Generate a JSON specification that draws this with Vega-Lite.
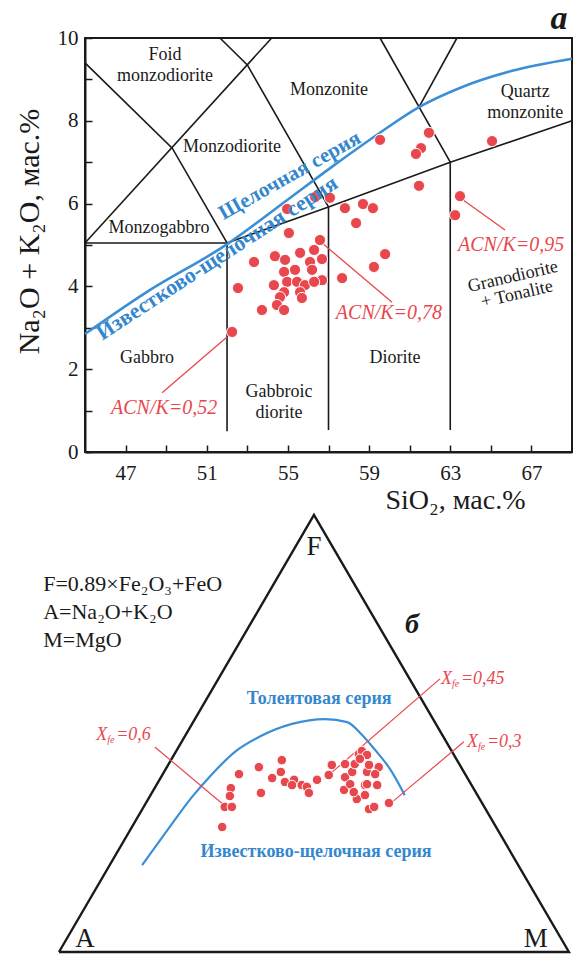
{
  "$schema": "https://vega.github.io/schema/vega-lite/v6.json",
  "background": "white",
  "padding": {"left": 13, "top": 0, "right": 0, "bottom": 0},
  "spacing": -5,
  "datasets": {
    "tas_lines": [
      {"seg": 1, "ord": 1, "x": 45, "y": 9.4}, {"seg": 1, "ord": 2, "x": 49.3, "y": 7.34}, {"seg": 1, "ord": 3, "x": 52, "y": 5.05},
      {"seg": 2, "ord": 1, "x": 45, "y": 5.05}, {"seg": 2, "ord": 2, "x": 54.2, "y": 10},
      {"seg": 3, "ord": 1, "x": 51.65, "y": 10}, {"seg": 3, "ord": 2, "x": 53, "y": 9.35}, {"seg": 3, "ord": 3, "x": 57, "y": 5.92},
      {"seg": 4, "ord": 1, "x": 45, "y": 5.05}, {"seg": 4, "ord": 2, "x": 52, "y": 5.05},
      {"seg": 5, "ord": 1, "x": 52, "y": 5.05}, {"seg": 5, "ord": 2, "x": 57, "y": 5.92}, {"seg": 5, "ord": 3, "x": 63, "y": 7.0}, {"seg": 5, "ord": 4, "x": 69, "y": 8.0},
      {"seg": 6, "ord": 1, "x": 59.54, "y": 10}, {"seg": 6, "ord": 2, "x": 63, "y": 7.0},
      {"seg": 7, "ord": 1, "x": 63.33, "y": 10}, {"seg": 7, "ord": 2, "x": 61.46, "y": 8.33},
      {"seg": 8, "ord": 1, "x": 52, "y": 5.05}, {"seg": 8, "ord": 2, "x": 52, "y": 0.5},
      {"seg": 9, "ord": 1, "x": 57, "y": 5.92}, {"seg": 9, "ord": 2, "x": 57, "y": 0.53},
      {"seg": 10, "ord": 1, "x": 63, "y": 7.0}, {"seg": 10, "ord": 2, "x": 63, "y": 0.53}
    ],
    "tas_blue": [
      {"ord": 1, "x": 45, "y": 2.85}, {"ord": 2, "x": 48, "y": 3.85}, {"ord": 3, "x": 52.1, "y": 5.05},
      {"ord": 4, "x": 55, "y": 6.1}, {"ord": 5, "x": 57.2, "y": 6.9}, {"ord": 6, "x": 59.5, "y": 7.7},
      {"ord": 7, "x": 61.46, "y": 8.33}, {"ord": 8, "x": 63.5, "y": 8.8}, {"ord": 9, "x": 66, "y": 9.2}, {"ord": 10, "x": 69, "y": 9.5}
    ],
    "tas_points": [
      {"x": 52.25, "y": 2.90}, {"x": 52.54, "y": 3.96}, {"x": 53.33, "y": 4.59}, {"x": 53.72, "y": 3.43},
      {"x": 54.96, "y": 5.87}, {"x": 55.05, "y": 5.29}, {"x": 56.58, "y": 5.12}, {"x": 54.36, "y": 4.73},
      {"x": 54.86, "y": 4.64}, {"x": 55.6, "y": 4.81}, {"x": 56.29, "y": 4.88}, {"x": 56.09, "y": 4.59},
      {"x": 56.68, "y": 4.66}, {"x": 55.35, "y": 4.40}, {"x": 54.81, "y": 4.35}, {"x": 56.19, "y": 4.40},
      {"x": 56.68, "y": 4.15}, {"x": 57.67, "y": 4.20}, {"x": 54.96, "y": 4.11}, {"x": 55.45, "y": 4.11},
      {"x": 54.31, "y": 4.03}, {"x": 55.84, "y": 4.03}, {"x": 56.29, "y": 4.11}, {"x": 54.81, "y": 3.86},
      {"x": 55.6, "y": 3.86}, {"x": 54.61, "y": 3.74}, {"x": 55.69, "y": 3.72}, {"x": 54.46, "y": 3.55},
      {"x": 54.81, "y": 3.43}, {"x": 56.34, "y": 6.16}, {"x": 57.07, "y": 6.14}, {"x": 57.81, "y": 5.89},
      {"x": 59.54, "y": 7.54}, {"x": 61.95, "y": 7.71}, {"x": 61.56, "y": 7.34}, {"x": 61.31, "y": 7.20},
      {"x": 61.46, "y": 6.43}, {"x": 58.7, "y": 5.99}, {"x": 59.19, "y": 5.89}, {"x": 58.36, "y": 5.53},
      {"x": 59.79, "y": 4.78}, {"x": 59.24, "y": 4.47}, {"x": 63.48, "y": 6.18}, {"x": 63.24, "y": 5.72},
      {"x": 65.06, "y": 7.51}
    ],
    "tas_leaders": [
      {"seg": 1, "ord": 1, "x": 52.0, "y": 2.78}, {"seg": 1, "ord": 2, "x": 48.8, "y": 1.43},
      {"seg": 2, "ord": 1, "x": 56.68, "y": 5.05}, {"seg": 2, "ord": 2, "x": 60.13, "y": 3.62},
      {"seg": 3, "ord": 1, "x": 63.6, "y": 6.1}, {"seg": 3, "ord": 2, "x": 65.7, "y": 5.36}
    ],
    "tas_acn": [
      {"x": 48.9, "y": 1.06, "t": "ACN/K=0,52"},
      {"x": 59.98, "y": 3.36, "t": "ACN/K=0,78"},
      {"x": 66.0, "y": 5.0, "t": "ACN/K=0,95"}
    ],
    "tas_regions": [
      {"x": 48.94, "y": 9.59, "t": ["Foid", "monzodiorite"]},
      {"x": 57.03, "y": 8.74, "t": "Monzonite"},
      {"x": 66.69, "y": 8.7, "t": ["Quartz", "monzonite"]},
      {"x": 52.24, "y": 7.37, "t": "Monzodiorite"},
      {"x": 48.65, "y": 5.41, "t": "Monzogabbro"},
      {"x": 48.06, "y": 2.27, "t": "Gabbro"},
      {"x": 54.56, "y": 1.45, "t": ["Gabbroic", "diorite"]},
      {"x": 60.28, "y": 2.27, "t": "Diorite"}
    ],
    "tas_grano": [{"x": 66.09, "y": 4.23, "t": ["Granodiorite", "+ Tonalite"]}],
    "tas_alk": [{"x": 55.1, "y": 6.67, "t": "Щелочная серия"}],
    "tas_calc": [{"x": 51.5, "y": 4.69, "t": "Известково-щелочная серия"}],
    "tas_letter": [{"x": 68.36, "y": 10.22, "t": "a"}],
    "afm_triangle": [
      {"ord": 1, "u": 0, "v": 0}, {"ord": 2, "u": 100, "v": 0}, {"ord": 3, "u": 50, "v": 100}, {"ord": 4, "u": 0, "v": 0}
    ],
    "afm_blue": [
      {"ord": 1, "u": 16.3, "v": 19.9}, {"ord": 2, "u": 21.4, "v": 28.1}, {"ord": 3, "u": 26.1, "v": 35.5},
      {"ord": 4, "u": 30.0, "v": 40.7}, {"ord": 5, "u": 34.5, "v": 45.8}, {"ord": 6, "u": 39.2, "v": 49.2},
      {"ord": 7, "u": 45.7, "v": 52.2}, {"ord": 8, "u": 52.2, "v": 53.3}, {"ord": 9, "u": 56.5, "v": 52.6},
      {"ord": 10, "u": 59.4, "v": 49.7}, {"ord": 11, "u": 61.8, "v": 46.5}, {"ord": 12, "u": 64.9, "v": 41.9},
      {"ord": 13, "u": 67.8, "v": 35.9}
    ],
    "afm_points": [
      {"u": 35.3, "v": 40.7}, {"u": 33.7, "v": 37.5}, {"u": 33.5, "v": 35.7}, {"u": 32.5, "v": 33.2},
      {"u": 33.9, "v": 33.2}, {"u": 32.0, "v": 28.6}, {"u": 39.2, "v": 42.3}, {"u": 39.6, "v": 36.4},
      {"u": 43.7, "v": 43.9}, {"u": 43.5, "v": 41.2}, {"u": 41.8, "v": 39.8}, {"u": 44.3, "v": 38.9},
      {"u": 46.1, "v": 39.4}, {"u": 45.7, "v": 38.2}, {"u": 47.6, "v": 38.2}, {"u": 48.6, "v": 37.8},
      {"u": 49.0, "v": 36.4}, {"u": 50.6, "v": 39.4}, {"u": 52.9, "v": 40.5}, {"u": 53.5, "v": 42.8},
      {"u": 56.1, "v": 40.0}, {"u": 55.9, "v": 37.1}, {"u": 57.5, "v": 41.2}, {"u": 58.0, "v": 43.0},
      {"u": 58.8, "v": 45.3}, {"u": 58.4, "v": 35.0}, {"u": 59.4, "v": 46.0}, {"u": 60.4, "v": 45.1},
      {"u": 62.7, "v": 42.3}, {"u": 56.1, "v": 43.0}, {"u": 57.1, "v": 38.4}, {"u": 57.8, "v": 36.6},
      {"u": 60.0, "v": 38.2}, {"u": 62.4, "v": 38.2}, {"u": 60.0, "v": 35.9}, {"u": 60.8, "v": 32.7},
      {"u": 61.8, "v": 33.2}, {"u": 64.7, "v": 34.1}, {"u": 60.4, "v": 41.2}, {"u": 59.0, "v": 44.2},
      {"u": 60.8, "v": 42.8}, {"u": 62.0, "v": 40.7}, {"u": 60.4, "v": 38.4}
    ],
    "afm_leaders": [
      {"seg": 1, "ord": 1, "u": 18.8, "v": 46.9}, {"seg": 1, "ord": 2, "u": 32.4, "v": 33.6},
      {"seg": 2, "ord": 1, "u": 74.7, "v": 62.5}, {"seg": 2, "ord": 2, "u": 53.1, "v": 40.7},
      {"seg": 3, "ord": 1, "u": 79.4, "v": 48.1}, {"seg": 3, "ord": 2, "u": 64.9, "v": 33.9}
    ],
    "afm_xfe": [
      {"u": 7.3, "v": 49.7, "t": "=0,6"},
      {"u": 74.9, "v": 62.5, "t": "=0,45"},
      {"u": 80.0, "v": 48.1, "t": "=0,3"}
    ],
    "afm_vertices": [
      {"u": 50, "v": 92.7, "t": "F"},
      {"u": 5.1, "v": 3.0, "t": "A"},
      {"u": 93.5, "v": 3.0, "t": "M"}
    ],
    "afm_formulas": [
      {"u": -3.1, "v": 84.2, "t": "F=0.89×Fe₂O₃+FeO"},
      {"u": -3.1, "v": 77.8, "t": "A=Na₂O+K₂O"},
      {"u": -3.1, "v": 71.4, "t": "M=MgO"}
    ],
    "afm_series": [
      {"u": 51, "v": 57.9, "t": "Толеитовая серия"},
      {"u": 50.4, "v": 22.9, "t": "Известково-щелочная серия"}
    ],
    "afm_letter": [{"u": 69.2, "v": 74.8, "t": "б"}]
  },
  "vconcat": [
    {
      "width": 487,
      "height": 414,
      "view": {"stroke": "#1a1a1a", "strokeWidth": 2},
      "encoding": {
        "x": {
          "field": "x", "type": "quantitative",
          "scale": {"domain": [45, 69], "nice": false, "zero": false},
          "axis": {
            "title": "SiO₂, мас.%",
            "values": [47, 49, 51, 53, 55, 57, 59, 61, 63, 65, 67],
            "labelExpr": "(datum.value - 47) % 4 === 0 ? datum.label : ''",
            "labelPadding": 17, "labelFlush": false,
            "titleX": 370, "titleY": 56, "titleFontSize": 28, "titleAlign": "center", "titleBaseline": "alphabetic"
          }
        },
        "y": {
          "field": "y", "type": "quantitative",
          "scale": {"domain": [0, 10], "nice": false, "zero": false},
          "axis": {
            "title": "Na₂O + K₂O, мас.%",
            "values": [0, 1, 2, 3, 4, 5, 6, 7, 8, 9, 10],
            "labelExpr": "datum.value % 2 === 0 ? datum.label : ''",
            "labelPadding": 14, "labelFlush": false,
            "titleX": -56, "titleY": 193, "titleAngle": 270, "titleAlign": "center", "titleBaseline": "middle"
          }
        }
      },
      "layer": [
        {
          "data": {"name": "tas_lines"},
          "mark": {"type": "line", "color": "#1a1a1a", "strokeWidth": 1.6},
          "encoding": {"detail": {"field": "seg"}, "order": {"field": "ord"}}
        },
        {
          "data": {"name": "tas_blue"},
          "mark": {"type": "line", "color": "#3b8fd6", "strokeWidth": 2.6, "interpolate": "monotone"},
          "encoding": {"order": {"field": "ord"}}
        },
        {
          "data": {"name": "tas_leaders"},
          "mark": {"type": "line", "color": "#e8474e", "strokeWidth": 1.3},
          "encoding": {"detail": {"field": "seg"}, "order": {"field": "ord"}}
        },
        {
          "data": {"name": "tas_points"},
          "mark": {"type": "circle", "size": 125, "color": "#e8474e", "opacity": 1, "stroke": "white", "strokeWidth": 1}
        },
        {
          "data": {"name": "tas_regions"},
          "mark": {"type": "text", "fontSize": 18, "color": "#1a1a1a", "baseline": "middle", "lineHeight": 21},
          "encoding": {"text": {"field": "t"}}
        },
        {
          "data": {"name": "tas_grano"},
          "mark": {"type": "text", "fontSize": 18, "color": "#1a1a1a", "baseline": "middle", "lineHeight": 18, "angle": -13},
          "encoding": {"text": {"field": "t"}}
        },
        {
          "data": {"name": "tas_alk"},
          "mark": {"type": "text", "fontSize": 21, "fontWeight": "bold", "color": "#3487cc", "baseline": "middle", "angle": -29.5},
          "encoding": {"text": {"field": "t"}}
        },
        {
          "data": {"name": "tas_calc"},
          "mark": {"type": "text", "fontSize": 22, "fontWeight": "bold", "color": "#3487cc", "baseline": "middle", "angle": -33},
          "encoding": {"text": {"field": "t"}}
        },
        {
          "data": {"name": "tas_acn"},
          "mark": {"type": "text", "fontSize": 20, "fontStyle": "italic", "color": "#e8474e", "baseline": "middle"},
          "encoding": {"text": {"field": "t"}}
        },
        {
          "data": {"name": "tas_letter"},
          "mark": {"type": "text", "fontSize": 34, "fontStyle": "italic", "fontWeight": "bold", "color": "#1a1a1a", "baseline": "alphabetic"},
          "encoding": {"text": {"field": "t"}}
        }
      ]
    },
    {
      "width": 487,
      "height": 437,
      "view": {"stroke": null},
      "encoding": {
        "x": {"field": "u", "type": "quantitative", "scale": {"domain": [5.1, 100.6], "nice": false, "zero": false}, "axis": null},
        "y": {"field": "v", "type": "quantitative", "scale": {"domain": [0, 100], "nice": false, "zero": false}, "axis": null}
      },
      "layer": [
        {
          "data": {"name": "afm_triangle"},
          "mark": {"type": "line", "color": "#1a1a1a", "strokeWidth": 2.4, "strokeJoin": "miter"},
          "encoding": {"order": {"field": "ord"}}
        },
        {
          "data": {"name": "afm_blue"},
          "mark": {"type": "line", "color": "#3b8fd6", "strokeWidth": 2.2, "interpolate": "monotone"},
          "encoding": {"order": {"field": "ord"}}
        },
        {
          "data": {"name": "afm_leaders"},
          "mark": {"type": "line", "color": "#e8474e", "strokeWidth": 1.2},
          "encoding": {"detail": {"field": "seg"}, "order": {"field": "ord"}}
        },
        {
          "data": {"name": "afm_points"},
          "mark": {"type": "circle", "size": 90, "color": "#e8474e", "opacity": 1, "stroke": "white", "strokeWidth": 1}
        },
        {
          "data": {"name": "afm_vertices"},
          "mark": {"type": "text", "fontSize": 27, "color": "#1a1a1a", "baseline": "middle"},
          "encoding": {"text": {"field": "t"}}
        },
        {
          "data": {"name": "afm_formulas"},
          "mark": {"type": "text", "fontSize": 22, "color": "#1a1a1a", "baseline": "middle", "align": "left"},
          "encoding": {"text": {"field": "t"}}
        },
        {
          "data": {"name": "afm_series"},
          "mark": {"type": "text", "fontSize": 18, "fontWeight": "bold", "color": "#3487cc", "baseline": "middle"},
          "encoding": {"text": {"field": "t"}}
        },
        {
          "data": {"name": "afm_letter"},
          "mark": {"type": "text", "fontSize": 28, "fontStyle": "italic", "fontWeight": "bold", "color": "#1a1a1a", "baseline": "middle"},
          "encoding": {"text": {"field": "t"}}
        },
        {
          "data": {"name": "afm_xfe"},
          "mark": {"type": "text", "fontSize": 18, "fontStyle": "italic", "color": "#e8474e", "baseline": "middle", "align": "left"},
          "encoding": {"text": {"value": "X"}}
        },
        {
          "data": {"name": "afm_xfe"},
          "mark": {"type": "text", "fontSize": 10, "fontStyle": "italic", "color": "#e8474e", "baseline": "middle", "align": "left", "dx": 11, "dy": 5},
          "encoding": {"text": {"value": "fe"}}
        },
        {
          "data": {"name": "afm_xfe"},
          "mark": {"type": "text", "fontSize": 18, "fontStyle": "italic", "color": "#e8474e", "baseline": "middle", "align": "left", "dx": 20},
          "encoding": {"text": {"field": "t"}}
        }
      ]
    }
  ],
  "config": {
    "font": "Liberation Serif",
    "axis": {
      "grid": false,
      "domainColor": "#1a1a1a", "domainWidth": 2,
      "tickColor": "#1a1a1a", "tickWidth": 1.5, "tickSize": -7,
      "labelFont": "Liberation Serif", "labelFontSize": 21, "labelColor": "#1a1a1a",
      "titleFont": "Liberation Serif", "titleFontSize": 30, "titleFontWeight": "normal", "titleColor": "#1a1a1a"
    },
    "text": {"font": "Liberation Serif"}
  }
}
